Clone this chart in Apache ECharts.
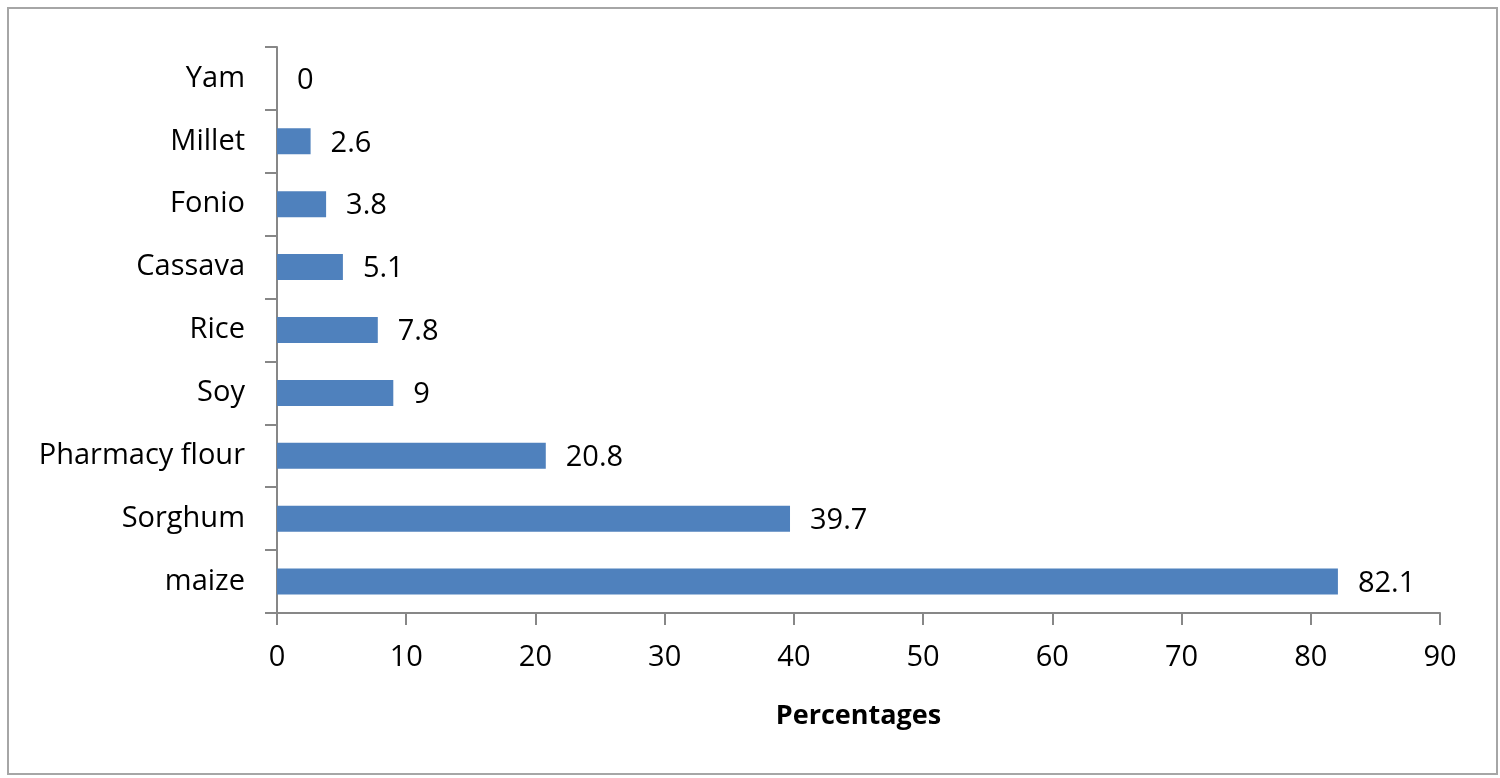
<!DOCTYPE html>
<html>
<head>
<meta charset="utf-8">
<script src="https://cdn.jsdelivr.net/npm/echarts@6/dist/echarts.min.js"></script>
<style>
  html, body { margin: 0; padding: 0; background: #fff; }
  #chart { width: 1500px; height: 778px; }
</style>
</head>
<body>
<div id="chart"></div>
<script>
// categories bottom to top
var crops = ['maize', 'Sorghum', 'Pharmacy flour', 'Soy', 'Rice', 'Cassava', 'Fonio', 'Millet', 'Yam'];
var percentages = [82.1, 39.7, 20.8, 9, 7.8, 5.1, 3.8, 2.6, 0];
var xTicks = [0, 10, 20, 30, 40, 50, 60, 70, 80, 90];

var myChart = echarts.init(document.getElementById('chart'));

var font = 'Open Sans';
var axisGray = '#878787';

var option = {
  animation: false,
  textStyle: { fontFamily: font },
  // outer frame
  graphic: [{
    type: 'rect',
    shape: { x: 8, y: 8, width: 1489, height: 766 },
    style: { fill: 'none', stroke: '#a6a6a6', lineWidth: 2 },
    silent: true
  }],
  grid: { left: 277, right: 60, top: 47, bottom: 165 },
  xAxis: {
    type: 'value',
    min: xTicks[0],
    max: xTicks[xTicks.length - 1],
    interval: xTicks[1] - xTicks[0],
    name: 'Percentages',
    nameLocation: 'middle',
    nameGap: 90,
    nameTextStyle: { fontFamily: font, fontSize: 27, fontWeight: 'bold', color: '#000' },
    axisLine: { show: true, lineStyle: { color: axisGray, width: 2 } },
    axisTick: { show: true, length: 12, lineStyle: { color: axisGray, width: 2 } },
    axisLabel: { fontFamily: font, fontSize: 29, color: '#000', margin: 30 },
    splitLine: { show: false }
  },
  yAxis: {
    type: 'category',
    data: crops,
    axisLine: { show: true, lineStyle: { color: axisGray, width: 2 } },
    axisTick: { show: true, length: 12, lineStyle: { color: axisGray, width: 2 } },
    axisLabel: { fontFamily: font, fontSize: 29, color: '#000', margin: 32 }
  },
  series: [{
    type: 'bar',
    data: percentages,
    barWidth: 26,
    itemStyle: { color: '#4f81bd' },
    label: {
      show: true,
      position: 'right',
      distance: 20,
      offset: [0, 2],
      fontFamily: font,
      fontSize: 29,
      color: '#000'
    }
  }]
};

myChart.setOption(option);
</script>
</body>
</html>
